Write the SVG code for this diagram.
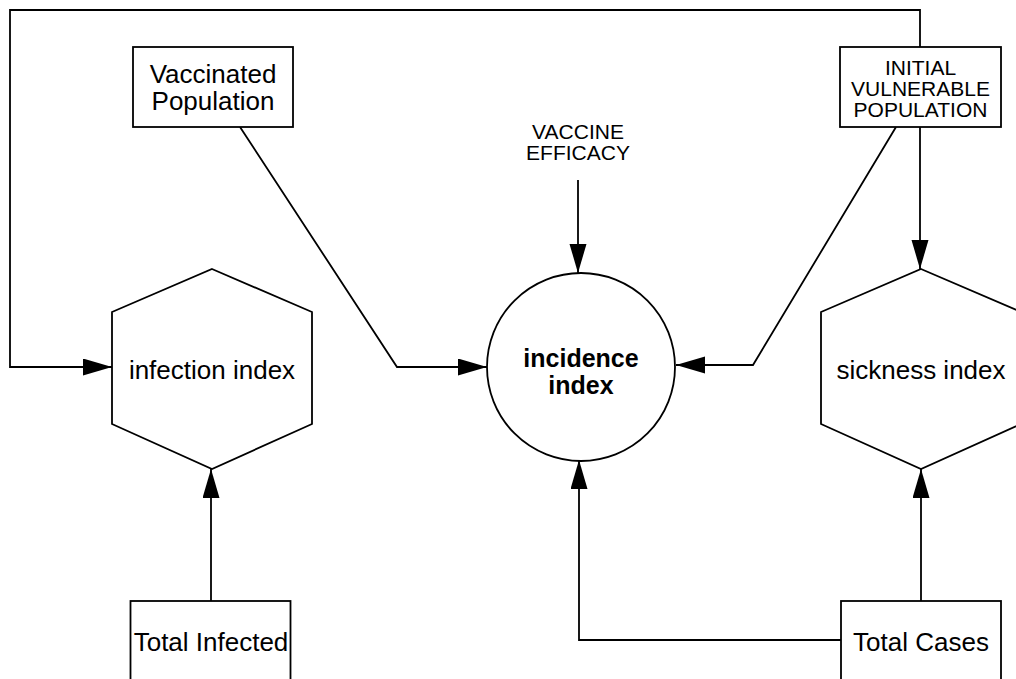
<svg xmlns="http://www.w3.org/2000/svg" width="1016" height="679" viewBox="0 0 1016 679">
<style>
.shape{fill:#fff;stroke:#000;stroke-width:1.8}
.conn{fill:none;stroke:#000;stroke-width:1.8}
.t{font-family:"Liberation Sans",Arial,sans-serif;font-size:26px;fill:#000;text-anchor:middle}
.s{font-family:"Liberation Sans",Arial,sans-serif;font-size:21px;fill:#000;text-anchor:middle}
.b{font-family:"Liberation Sans",Arial,sans-serif;font-size:25px;font-weight:bold;fill:#000;text-anchor:middle}
</style>
<defs>
<marker id="arr" markerUnits="userSpaceOnUse" markerWidth="30" markerHeight="18" refX="29" refY="8.5" orient="auto">
<path d="M0,0 L29,8.5 L0,17 z" fill="#000"/>
</marker>
</defs>
<rect width="1016" height="679" fill="#fff"/>
<g id="connectors">
<polyline class="conn" points="920,47 920,10 10,10 10,367 112,367" marker-end="url(#arr)"/>
<polyline class="conn" points="240,127 397,367 487,367" marker-end="url(#arr)"/>
<polyline class="conn" points="896,127 753,365 676,365" marker-end="url(#arr)"/>
<line class="conn" x1="578" y1="180" x2="578" y2="273" marker-end="url(#arr)"/>
<line class="conn" x1="920" y1="127" x2="920" y2="269" marker-end="url(#arr)"/>
<line class="conn" x1="211" y1="601" x2="211" y2="469" marker-end="url(#arr)"/>
<polyline class="conn" points="841,640 579,640 579,460" marker-end="url(#arr)"/>
<line class="conn" x1="921" y1="601" x2="921" y2="469" marker-end="url(#arr)"/>
</g>
<g id="vaccinated">
<rect class="shape" x="133" y="47" width="160" height="80"/>
<text class="t" x="213" y="82.5">Vaccinated</text>
<text class="t" x="213" y="110">Population</text>
</g>
<g id="initial">
<rect class="shape" x="840" y="47" width="161" height="80"/>
<text class="s" x="920.5" y="75">INITIAL</text>
<text class="s" x="920.5" y="96">VULNERABLE</text>
<text class="s" x="920.5" y="117">POPULATION</text>
</g>
<g id="efficacy">
<text class="s" x="578" y="139">VACCINE</text>
<text class="s" x="578" y="160">EFFICACY</text>
</g>
<g id="incidence">
<circle class="shape" cx="581" cy="367" r="94"/>
<text class="b" x="581" y="366.5">incidence</text>
<text class="b" x="581" y="394">index</text>
</g>
<g id="infection">
<polygon class="shape" points="212,269 312,312 312,424 212,469 112,424 112,312"/>
<text class="t" x="212" y="379">infection index</text>
</g>
<g id="sickness">
<polygon class="shape" points="921,269 1021,312 1021,424 921,469 821,424 821,312"/>
<text class="t" x="921" y="379">sickness index</text>
</g>
<g id="totalinfected">
<rect class="shape" x="130.5" y="601" width="160" height="80"/>
<text class="t" x="211" y="651">Total Infected</text>
</g>
<g id="totalcases">
<rect class="shape" x="841" y="601" width="160" height="80"/>
<text class="t" x="921" y="651">Total Cases</text>
</g>
</svg>
